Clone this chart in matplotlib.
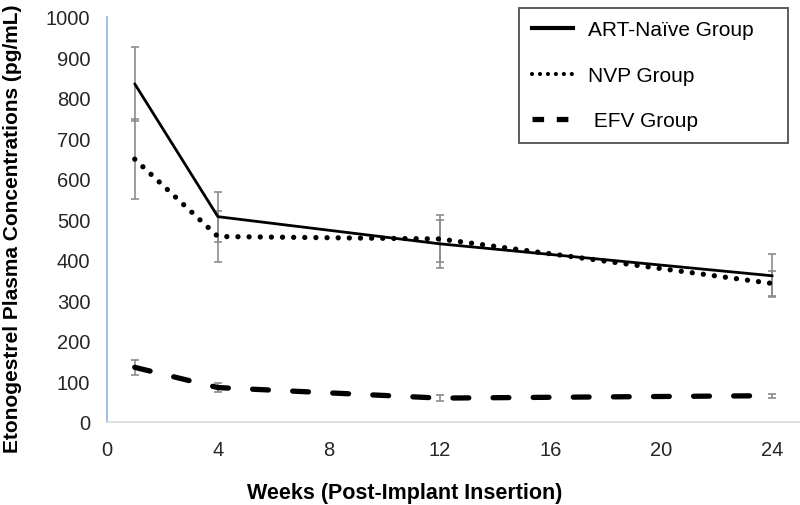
import numpy as np
import matplotlib.pyplot as plt
from matplotlib.lines import Line2D

plt.rcParams['font.family'] = ['Liberation Sans', 'DejaVu Sans']

weeks = [1, 4, 12, 24]

art_naive = [835, 507, 440, 361]
art_naive_err = [92, 62, 60, 53]

nvp = [649, 458, 452, 342]
nvp_err = [99, 63, 58, 31]

efv = [135, 85, 59, 65]
efv_err = [18, 11, 7, 5]

labels = ['ART-Naïve Group', 'NVP Group', ' EFV Group']

fig = plt.figure(figsize=(8, 5.06), dpi=100)
ax = fig.add_axes([107/800, 1-423/506, 1-107/800, (423-18)/506])

errcol = '#8c8c8c'
for y, e in [(art_naive, art_naive_err), (nvp, nvp_err), (efv, efv_err)]:
    ax.errorbar(weeks, y, yerr=e, fmt='none', ecolor=errcol, elinewidth=1.2,
                capsize=3, capthick=1.2, zorder=2)

l1, = ax.plot(weeks, art_naive, color='k', lw=2.0, zorder=3,
              solid_capstyle='round')
l2, = ax.plot(weeks, nvp, color='k', lw=3.8, linestyle=(0, (0.01, 2.1)),
              dash_capstyle='round', zorder=3)
l3, = ax.plot(weeks, efv, color='k', lw=3.8, linestyle=(0, (3.0, 4.6)),
              dash_capstyle='round', zorder=3)

# legend handles: shorter dash so two dashes fit like the original key
h1 = Line2D([], [], color='k', lw=3.0)
h2 = Line2D([], [], color='k', lw=3.0, linestyle=(0, (0.01, 1.9)),
            dash_capstyle='round')
h3 = Line2D([], [], color='k', lw=3.8, linestyle=(0, (2.2, 2.4)),
            dash_capstyle='butt')

ax.set_xlim(0, 25)
ax.set_ylim(0, 1000)
ax.set_xticks(np.arange(0, 25, 4))
ax.set_yticks(np.arange(0, 1001, 100))
ax.tick_params(length=0, labelsize=14.5, labelcolor='#262626', pad=12)
ax.tick_params(axis='x', pad=13)

for s in ['top', 'right']:
    ax.spines[s].set_visible(False)
ax.spines['left'].set_color('#8eb4e3')
ax.spines['left'].set_linewidth(1.2)
ax.spines['bottom'].set_color('#d9d9d9')
ax.spines['bottom'].set_linewidth(1.2)

ax.set_xlabel('Weeks (Post-Implant Insertion)', fontsize=15.5, fontweight='bold')
ax.xaxis.set_label_coords(0.43, -0.148)
ax.set_ylabel('Etonogestrel Plasma Concentrations (pg/mL)', fontsize=15,
              fontweight='bold')
ax.yaxis.set_label_coords(-0.122, 0.48)

leg = fig.legend([h1, h2, h3], labels, loc='upper left',
                 bbox_to_anchor=(519/800, 1-146/506, 269/800, 137/506),
                 mode='expand', fontsize=15, frameon=True, fancybox=False,
                 edgecolor='#333333', handlelength=2.0, labelspacing=1.27,
                 borderpad=0.6, handletextpad=0.7, borderaxespad=0)
leg.get_frame().set_linewidth(1.4)

fig.savefig('out.png', dpi=100)
